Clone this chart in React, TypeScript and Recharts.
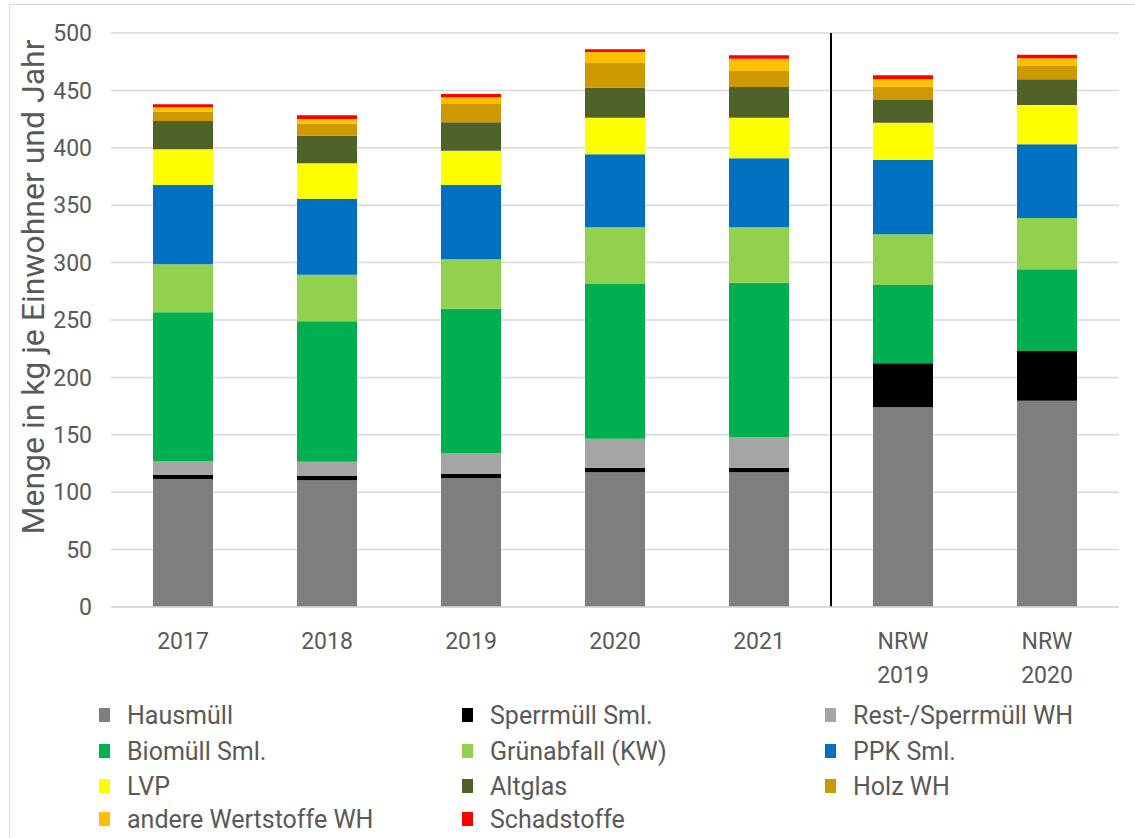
import React from "react";
import {
  Bar,
  BarChart,
  CartesianGrid,
  Legend,
  ReferenceLine,
  XAxis,
  YAxis,
} from "recharts";

const categories = ["2017", "2018", "2019", "2020", "2021", "NRW 2019", "NRW 2020"];

const hausmuell = [111.5, 110.5, 112.4, 117.3, 117.3, 174.0, 179.7];
const sperrmuellSml = [3.5, 3.6, 3.7, 4.0, 4.0, 38.3, 43.3];
const restSperrmuellWH = [12.0, 12.5, 17.8, 25.3, 26.7, 0, 0];
const biomuellSml = [129.7, 122.3, 126.0, 134.8, 134.5, 68.2, 71.2];
const gruenabfall = [41.8, 40.6, 43.0, 49.3, 48.2, 44.2, 44.7];
const ppkSml = [69.1, 66.2, 64.7, 63.6, 60.2, 64.7, 64.1];
const lvp = [31.1, 30.8, 29.9, 31.9, 35.3, 32.5, 34.3];
const altglas = [24.6, 24.0, 24.7, 26.2, 26.8, 19.7, 22.4];
const holzWH = [8.2, 10.5, 16.0, 21.5, 13.9, 11.6, 11.6];
const andereWertstoffeWH = [3.8, 4.0, 5.8, 9.5, 10.7, 6.5, 6.7];
const schadstoffe = [2.6, 3.3, 2.9, 2.4, 3.0, 3.4, 3.1];

const yTicks = [0, 50, 100, 150, 200, 250, 300, 350, 400, 450, 500];

const series = [
  { key: "haus", name: "Hausmüll", color: "#7f7f7f", values: hausmuell },
  { key: "sperr", name: "Sperrmüll Sml.", color: "#000000", values: sperrmuellSml },
  { key: "rest", name: "Rest-/Sperrmüll WH", color: "#a5a5a5", values: restSperrmuellWH },
  { key: "bio", name: "Biomüll Sml.", color: "#00b050", values: biomuellSml },
  { key: "gruen", name: "Grünabfall (KW)", color: "#92d050", values: gruenabfall },
  { key: "ppk", name: "PPK Sml.", color: "#0070c0", values: ppkSml },
  { key: "lvp", name: "LVP", color: "#ffff00", values: lvp },
  { key: "glas", name: "Altglas", color: "#4f6228", values: altglas },
  { key: "holz", name: "Holz WH", color: "#cc9900", values: holzWH },
  { key: "andere", name: "andere Wertstoffe WH", color: "#ffc000", values: andereWertstoffeWH },
  { key: "schad", name: "Schadstoffe", color: "#ff0000", values: schadstoffe },
];

const data = categories.map((name, i) => {
  const row: Record<string, string | number> = { name };
  series.forEach((s) => {
    row[s.key] = s.values[i];
  });
  return row;
});

const FONT = "Roboto, 'Open Sans', sans-serif";
const TEXT = "#595959";
// legend row centres, relative to the legend box top (690)
const legendRows = [25, 61, 96, 129];

function XTick(props: any) {
  const { x, y, payload } = props;
  const lines = String(payload.value).split(" ");
  return (
    <text x={x} y={y + 42} textAnchor="middle" fill={TEXT} fontSize={23} fontFamily={FONT}>
      {lines.map((l, i) => (
        <tspan key={i} x={x} dy={i === 0 ? 0 : 34}>
          {l}
        </tspan>
      ))}
    </text>
  );
}

function LegendGrid() {
  return (
    <div style={{ position: "relative", width: 1135, height: 148, fontFamily: FONT }}>
      {series.map((s, i) => {
        const col = i % 3;
        const row = Math.floor(i / 3);
        return (
          <div
            key={s.key}
            style={{
              position: "absolute",
              left: 99 + col * 363,
              top: legendRows[row] - 15,
              height: 30,
              display: "flex",
              alignItems: "center",
              whiteSpace: "nowrap",
            }}
          >
            <span style={{ width: 11, height: 14, background: s.color, display: "inline-block" }} />
            <span style={{ marginLeft: 17, fontSize: 25, color: TEXT }}>{s.name}</span>
          </div>
        );
      })}
    </div>
  );
}

export default function App() {
  return (
    <div
      style={{
        position: "absolute",
        left: 0,
        top: 0,
        width: 1135,
        height: 838,
        overflow: "hidden",
        background: "#ffffff",
      }}
    >
      <div
        style={{
          position: "absolute",
          left: 9,
          top: 4,
          width: 1160,
          height: 860,
          border: "1px solid #d9d9d9",
        }}
      />
      <BarChart
        width={1135}
        height={838}
        data={data}
        margin={{ top: 33, right: 16, left: 0, bottom: 0 }}
        barSize={60}
      >
        <CartesianGrid vertical={false} stroke="#d9d9d9" strokeWidth={1.5} />
        <XAxis
          dataKey="name"
          height={83}
          tickLine={false}
          tickSize={0}
          tickMargin={0}
          stroke="#d9d9d9"
          strokeWidth={1.5}
          tick={<XTick />}
          interval={0}
        />
        <YAxis
          width={111}
          domain={[0, 500]}
          ticks={yTicks}
          axisLine={false}
          tickLine={false}
          tickSize={0}
          tickMargin={19}
          tick={{ fill: TEXT, fontSize: 23, fontFamily: FONT }}
          label={{
            value: "Menge in kg je Einwohner und Jahr",
            angle: -90,
            position: "insideLeft",
            content: () => (
              <text
                x={33}
                y={287}
                transform="rotate(-90 33 287)"
                textAnchor="middle"
                dominantBaseline="central"
                fill={TEXT}
                fontSize={32}
                fontFamily={FONT}
              >
                Menge in kg je Einwohner und Jahr
              </text>
            ),
          }}
        />
        {series.map((s) => (
          <Bar
            key={s.key}
            dataKey={s.key}
            name={s.name}
            stackId="a"
            fill={s.color}
            isAnimationActive={false}
          />
        ))}
        <ReferenceLine x="2021" position="end" stroke="#000000" strokeWidth={2} />
        <Legend
          verticalAlign="bottom"
          content={() => <LegendGrid />}
          wrapperStyle={{ position: "absolute", left: 0, top: 690, width: 1135, height: 148 }}
        />
      </BarChart>
    </div>
  );
}
